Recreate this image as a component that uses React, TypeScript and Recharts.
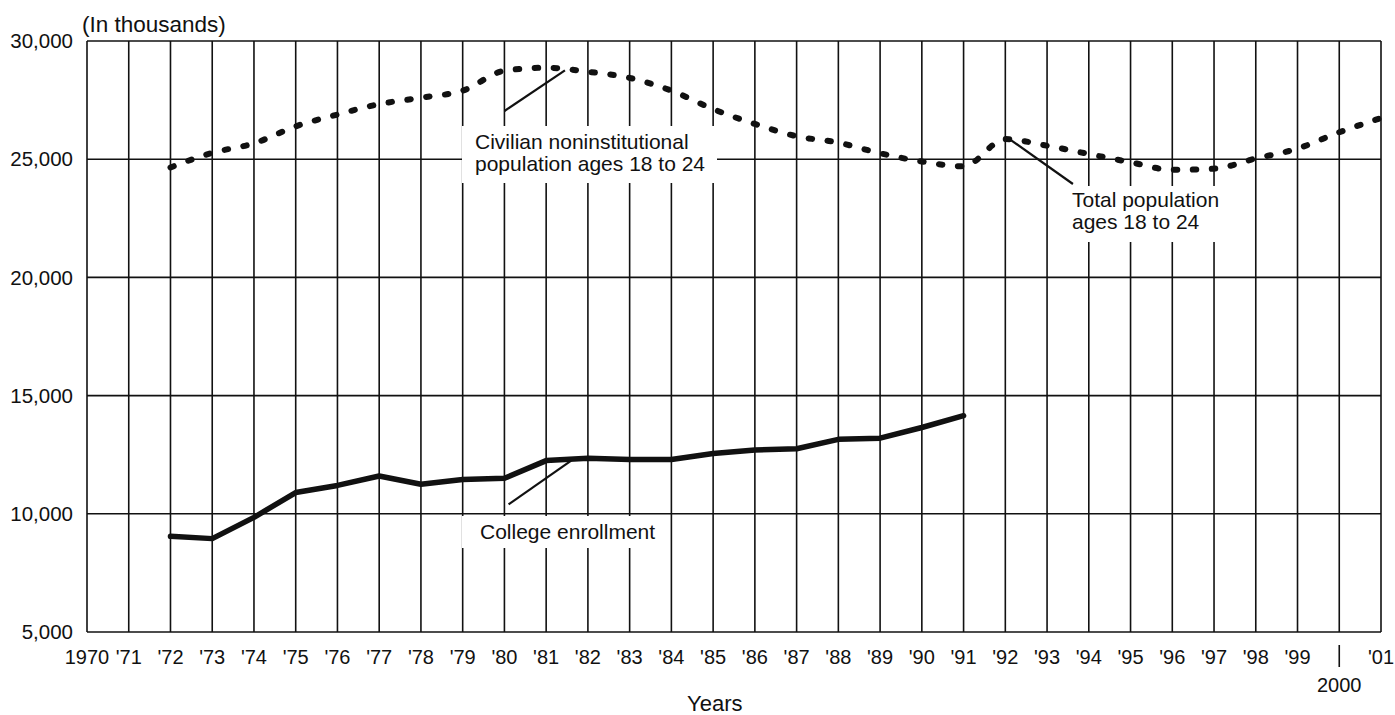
import React from "react";
import { CartesianGrid, Line, LineChart, ReferenceLine, XAxis, YAxis } from "recharts";

const years = [
  1970, 1971, 1972, 1973, 1974, 1975, 1976, 1977, 1978, 1979, 1980, 1981, 1982, 1983, 1984, 1985,
  1986, 1987, 1988, 1989, 1990, 1991, 1992, 1993, 1994, 1995, 1996, 1997, 1998, 1999, 2000, 2001,
];

const yearLabels = [
  "1970", "'71", "'72", "'73", "'74", "'75", "'76", "'77", "'78", "'79", "'80", "'81", "'82", "'83", "'84", "'85",
  "'86", "'87", "'88", "'89", "'90", "'91", "'92", "'93", "'94", "'95", "'96", "'97", "'98", "'99", "2000", "'01",
];

// college enrollment, 1972-1991
const enrollmentYears = [
  1972, 1973, 1974, 1975, 1976, 1977, 1978, 1979, 1980, 1981, 1982, 1983, 1984, 1985, 1986, 1987, 1988, 1989, 1990, 1991,
];
const enrollment = [
  9050, 8950, 9850, 10900, 11200, 11600, 11250, 11450, 11500, 12250, 12350, 12300, 12300, 12550, 12700, 12750, 13150,
  13200, 13650, 14150,
];

// population ages 18 to 24, 1972-2001
const populationYears = [
  1972, 1973, 1974, 1975, 1976, 1977, 1978, 1979, 1980, 1981, 1982, 1983, 1984, 1985, 1986, 1987, 1988, 1989, 1990, 1991,
  1992, 1993, 1994, 1995, 1996, 1997, 1998, 1999, 2000, 2001,
];
const population = [
  24650, 25270, 25670, 26390, 26890, 27330, 27600, 27900, 28740, 28870, 28700, 28440, 27900, 27120, 26490, 25970, 25700,
  25250, 24900, 24700, 25850, 25570, 25220, 24870, 24550, 24600, 25030, 25450, 26140, 26740,
];

const yTicks = [5000, 10000, 15000, 20000, 25000, 30000];

const data = years.map((year) => {
  const ei = enrollmentYears.indexOf(year);
  const pi = populationYears.indexOf(year);
  return {
    year,
    enrollment: ei >= 0 ? enrollment[ei] : null,
    population: pi >= 0 ? population[pi] : null,
  };
});

const FONT = "'Liberation Sans', Arial, Helvetica, sans-serif";
const INK = "#111";

function YearTick(props: any) {
  const { x, y, payload } = props;
  const label = yearLabels[years.indexOf(payload.value)];
  if (payload.value === 2000) {
    return (
      <g>
        <line x1={x} x2={x} y1={y - 5} y2={y + 17} stroke={INK} strokeWidth={1.6} />
        <text x={x} y={y + 28} dy="0.71em" textAnchor="middle" fontSize={20} fontFamily={FONT} fill={INK}>
          {label}
        </text>
      </g>
    );
  }
  return (
    <text x={x} y={y} dy="0.71em" textAnchor="middle" fontSize={20} fontFamily={FONT} fill={INK}>
      {label}
    </text>
  );
}

const note: React.CSSProperties = {
  position: "absolute",
  background: "#fff",
  fontFamily: FONT,
  fontSize: 21,
  color: INK,
  whiteSpace: "nowrap",
  boxSizing: "border-box",
};

export default function App() {
  return (
    <div style={{ position: "absolute", left: 0, top: 0, width: 1395, height: 715, background: "#fff" }}>
      <LineChart width={1395} height={715} data={data} margin={{ top: 41, right: 14, bottom: 23, left: 0 }}>
        <CartesianGrid stroke={INK} strokeWidth={1.6} strokeDasharray="" />
        <XAxis
          dataKey="year"
          type="number"
          domain={[1970, 2001]}
          ticks={years}
          interval={0}
          tickLine={false}
          axisLine={false}
          tickSize={0}
          tickMargin={18}
          height={60}
          tick={<YearTick />}
        />
        <YAxis
          type="number"
          domain={[5000, 30000]}
          ticks={yTicks}
          width={87}
          tickLine={false}
          axisLine={false}
          tickSize={0}
          tickMargin={14}
          tickFormatter={(v: number) => v.toLocaleString("en-US")}
          tick={{ fill: INK, fontSize: 20.5, fontFamily: FONT }}
        />
        <ReferenceLine
          segment={[{ x: 1980, y: 27040 }, { x: 1981.45, y: 28760 }]}
          stroke={INK}
          strokeWidth={2.2}
          ifOverflow="visible"
        />
        <ReferenceLine
          segment={[{ x: 1992.1, y: 25850 }, { x: 1993.62, y: 23950 }]}
          stroke={INK}
          strokeWidth={2.2}
          ifOverflow="visible"
        />
        <ReferenceLine
          segment={[{ x: 1980.1, y: 10400 }, { x: 1981.6, y: 12250 }]}
          stroke={INK}
          strokeWidth={2.2}
          ifOverflow="visible"
        />
        <Line
          dataKey="population"
          type="monotone"
          stroke={INK}
          strokeWidth={6}
          strokeDasharray="3.5 15.5"
          strokeLinecap="round"
          dot={false}
          activeDot={false}
          isAnimationActive={false}
        />
        <Line
          dataKey="enrollment"
          type="linear"
          stroke={INK}
          strokeWidth={5.5}
          strokeLinejoin="round"
          strokeLinecap="round"
          dot={false}
          activeDot={false}
          isAnimationActive={false}
        />
      </LineChart>

      <div style={{ ...note, left: 82, top: 12, fontSize: 22.5, lineHeight: "26px", background: "transparent" }}>
        (In thousands)
      </div>
      <div style={{ ...note, left: 687, top: 691, fontSize: 22, lineHeight: "26px", background: "transparent" }}>
        Years
      </div>

      <div style={{ ...note, left: 462, top: 126, width: 255, height: 57, padding: "5px 0 0 13px", lineHeight: "21.5px" }}>
        Civilian noninstitutional
        <br />
        population ages 18 to 24
      </div>
      <div style={{ ...note, left: 1062, top: 186, width: 163, height: 56, padding: "3px 0 0 10px", lineHeight: "22px" }}>
        Total population
        <br />
        ages 18 to 24
      </div>
      <div style={{ ...note, left: 462, top: 516, width: 196, height: 32, padding: "4px 0 0 18px", lineHeight: "23px" }}>
        College enrollment
      </div>
    </div>
  );
}
